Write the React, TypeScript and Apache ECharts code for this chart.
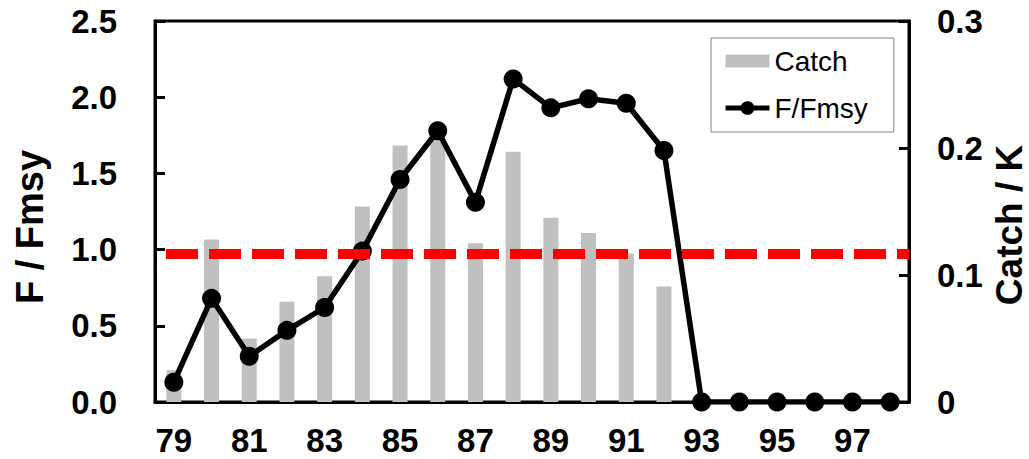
import React, { useEffect, useRef } from "react";
import * as echarts from "echarts";

const years = ["79", "80", "81", "82", "83", "84", "85", "86", "87", "88", "89", "90", "91", "92", "93", "94", "95", "96", "97", "98"];
const catchK = [0.025, 0.128, 0.05, 0.079, 0.099, 0.154, 0.202, 0.207, 0.125, 0.197, 0.145, 0.133, 0.117, 0.091, null, null, null, null, null, null];
const fFmsy = [0.13, 0.68, 0.3, 0.47, 0.62, 0.99, 1.46, 1.78, 1.31, 2.12, 1.93, 1.99, 1.96, 1.65, 0, 0, 0, 0, 0, 0];
const threshold = 0.97;
const leftTicks = { min: 0, max: 2.5, interval: 0.5 };
const rightTicks = { min: 0, max: 0.3, interval: 0.1 };

const FONT = "'Liberation Sans', Arial, sans-serif";

export default function App() {
  const ref = useRef<HTMLDivElement>(null);
  useEffect(() => {
    if (!ref.current) return;
    const chart = echarts.init(ref.current, null, { renderer: "svg" });
    chart.setOption({
      animation: false,
      backgroundColor: "#ffffff",
      textStyle: { fontFamily: FONT },
      grid: { left: 155, right: 120, top: 21, bottom: 57, show: true, borderColor: "#000", borderWidth: 3, backgroundColor: "transparent" },
      legend: {
        data: [
          { name: "Catch", icon: "path://M0,2L44,2L44,15L0,15Z" },
          { name: "F/Fmsy", lineStyle: { width: 5, color: "#000" } },
        ],
        orient: "vertical",
        left: 711,
        top: 38,
        padding: [9, 26, 10, 12],
        itemGap: 19,
        itemWidth: 44,
        itemHeight: 17,
        borderColor: "#808080",
        borderWidth: 1,
        textStyle: { fontFamily: FONT, fontSize: 28, color: "#000" },
      },
      xAxis: {
        type: "category",
        data: years,
        boundaryGap: true,
        axisLine: { lineStyle: { color: "#000", width: 3 } },
        axisTick: { inside: true, length: 9, interval: 0, lineStyle: { color: "#000", width: 3 } },
        axisLabel: { interval: 1, margin: 22, fontFamily: FONT, fontSize: 33, fontWeight: "bold", color: "#000" },
        splitLine: { show: false },
      },
      yAxis: [
        {
          type: "value",
          ...leftTicks,
          axisLine: { show: true, lineStyle: { color: "#000", width: 3 } },
          axisTick: { show: true, inside: true, length: 10, lineStyle: { color: "#000", width: 3 } },
          axisLabel: { margin: 38, fontFamily: FONT, fontSize: 33, fontWeight: "bold", color: "#000", formatter: (v: number) => v.toFixed(1) },
          splitLine: { show: false },
        },
        {
          type: "value",
          position: "right",
          ...rightTicks,
          axisLine: { show: true, lineStyle: { color: "#000", width: 3 } },
          axisTick: { show: true, inside: true, length: 10, lineStyle: { color: "#000", width: 3 } },
          axisLabel: { margin: 28, fontFamily: FONT, fontSize: 33, fontWeight: "bold", color: "#000", formatter: (v: number) => (v === 0 ? "0" : v.toFixed(1)) },
          splitLine: { show: false },
        },
      ],
      graphic: [
        { type: "text", x: 30, y: 227, rotation: Math.PI / 2, style: { text: "F / Fmsy", fontFamily: FONT, fontSize: 38, fontWeight: "bold", fill: "#000", align: "center", verticalAlign: "middle" } },
        { type: "text", x: 1009, y: 225, rotation: Math.PI / 2, style: { text: "Catch / K", fontFamily: FONT, fontSize: 37, fontWeight: "bold", fill: "#000", align: "center", verticalAlign: "middle" } },
      ],
      series: [
        {
          name: "Catch",
          type: "bar",
          yAxisIndex: 1,
          data: catchK,
          barWidth: 15,
          itemStyle: { color: "#c0c0c0" },
          z: 1,
        },
        {
          name: "threshold",
          type: "line",
          yAxisIndex: 0,
          data: [],
          silent: true,
          z: 2,
          markLine: {
            silent: true,
            symbol: "none",
            label: { show: false },
            lineStyle: { color: "#ff0000", width: 10, type: [32, 11], dashOffset: 32 },
            data: [{ yAxis: threshold }],
          },
        },
        {
          name: "F/Fmsy",
          type: "line",
          yAxisIndex: 0,
          data: fFmsy,
          symbol: "circle",
          symbolSize: 19,
          lineStyle: { color: "#000", width: 5.5 },
          itemStyle: { color: "#000" },
          z: 3,
        },
      ],
    });
    return () => chart.dispose();
  }, []);
  return <div ref={ref} style={{ position: "fixed", left: 0, top: 0, width: 1029, height: 459 }} />;
}
